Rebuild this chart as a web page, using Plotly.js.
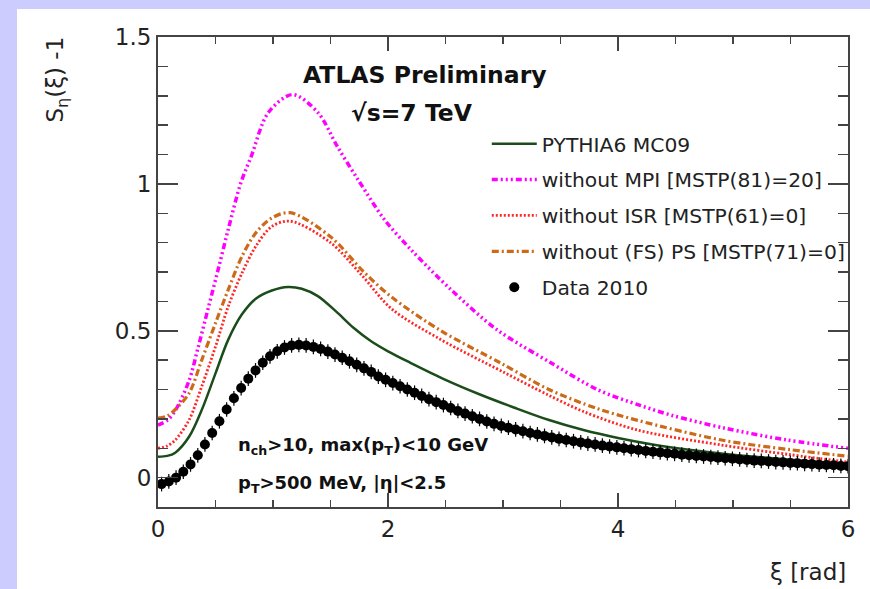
<!DOCTYPE html>
<html>
<head>
<meta charset="utf-8">
<script src="https://cdn.plot.ly/plotly-3.0.1.min.js"></script>
<style>
  html, body { margin: 0; padding: 0; background: #ccccff; width: 870px; height: 589px; overflow: hidden; }
  #chart { position: absolute; left: 17px; top: 9px; width: 853px; height: 580px; background: #ffffff; }
</style>
</head>
<body>
<div id="chart"></div>
<script>
// ---- data ----
var dataX = [
  0.031,0.094,0.157,0.220,0.283,0.346,0.408,0.471,0.534,0.597,
  0.660,0.723,0.785,0.848,0.911,0.974,1.037,1.100,1.162,1.225,
  1.288,1.351,1.414,1.477,1.539,1.602,1.665,1.728,1.791,1.854,
  1.916,1.979,2.042,2.105,2.168,2.231,2.293,2.356,2.419,2.482,
  2.545,2.608,2.670,2.733,2.796,2.859,2.922,2.985,3.047,3.110,
  3.173,3.236,3.299,3.361,3.424,3.487,3.550,3.613,3.676,3.738,
  3.801,3.864,3.927,3.990,4.052,4.115,4.178,4.241,4.304,4.367,
  4.429,4.492,4.555,4.618,4.681,4.744,4.807,4.869,4.932,4.995,
  5.058,5.121,5.184,5.246,5.309,5.372,5.435,5.498,5.560,5.623,
  5.686,5.749,5.812,5.875,5.938,6.000];
var dataY = [
  -0.022,-0.013,0.000,0.020,0.045,0.076,0.113,0.152,0.192,0.232,
  0.270,0.305,0.337,0.365,0.391,0.413,0.430,0.443,0.450,0.452,
  0.450,0.445,0.438,0.429,0.419,0.408,0.396,0.384,0.372,0.360,
  0.344,0.333,0.322,0.311,0.300,0.289,0.278,0.267,0.257,0.247,
  0.237,0.227,0.218,0.209,0.200,0.191,0.183,0.176,0.170,0.164,
  0.158,0.152,0.147,0.142,0.137,0.132,0.128,0.124,0.120,0.116,
  0.113,0.109,0.106,0.103,0.100,0.097,0.094,0.091,0.088,0.086,
  0.083,0.081,0.078,0.076,0.074,0.072,0.070,0.068,0.066,0.064,
  0.062,0.060,0.058,0.057,0.055,0.053,0.052,0.050,0.049,0.047,
  0.046,0.044,0.043,0.042,0.040,0.039];
var dataErr = 0.025;

var mc09X = [0,0.08,0.15,0.27,0.38,0.50,0.61,0.73,0.85,0.99,1.13,1.25,1.39,1.55,1.70,1.85,2.00,2.20,2.50,2.80,3.10,3.40,3.70,4.00,4.30,4.60,5.00,5.50,6.00];
var mc09Y = [0.071,0.074,0.085,0.139,0.23,0.355,0.469,0.556,0.609,0.637,0.649,0.643,0.618,0.565,0.510,0.465,0.430,0.390,0.333,0.283,0.238,0.196,0.162,0.135,0.113,0.096,0.078,0.061,0.047];

var noMpiX = [0,0.08,0.15,0.27,0.35,0.44,0.53,0.61,0.72,0.81,0.96,1.17,1.39,1.56,1.74,1.97,2.20,2.55,2.95,3.42,3.83,4.20,4.46,4.92,5.47,6.00];
var noMpiY = [0.179,0.195,0.228,0.33,0.445,0.582,0.719,0.844,1.003,1.093,1.243,1.304,1.243,1.127,1.014,0.878,0.776,0.639,0.503,0.39,0.298,0.245,0.213,0.169,0.128,0.10];

var noIsrX = [0,0.08,0.15,0.27,0.38,0.50,0.61,0.73,0.85,0.99,1.15,1.50,1.77,2.03,2.45,3.00,3.40,3.70,4.17,4.90,5.50,6.00];
var noIsrY = [0.10,0.108,0.128,0.196,0.31,0.446,0.582,0.696,0.787,0.855,0.873,0.80,0.69,0.575,0.472,0.36,0.28,0.225,0.162,0.111,0.078,0.053];

var noPsX = [0,0.08,0.15,0.27,0.38,0.50,0.61,0.73,0.85,0.99,1.15,1.50,1.79,2.03,2.46,2.98,3.40,3.82,4.17,4.90,5.50,6.00];
var noPsY = [0.203,0.21,0.232,0.287,0.40,0.526,0.639,0.753,0.833,0.884,0.902,0.82,0.70,0.615,0.50,0.39,0.30,0.235,0.195,0.128,0.095,0.073];

var seriesNames = ["PYTHIA6 MC09", "without MPI [MSTP(81)=20]", "without ISR [MSTP(61)=0]", "without (FS) PS [MSTP(71)=0]", "Data 2010"];
var xTickVals = [0, 2, 4, 6];
var yTickVals = [0, 0.5, 1, 1.5];

var FONT = "DejaVu Sans, Liberation Sans, Arial, sans-serif";
var AX = "#444444";

var traces = [
  {x: mc09X, y: mc09Y, name: seriesNames[0], mode: "lines", legendgroup: "a",
   line: {color: "#1b4d1b", width: 2.5, shape: "spline", smoothing: 0.9}},
  {x: noMpiX, y: noMpiY, name: seriesNames[1], mode: "lines", legendgroup: "b",
   line: {color: "#ff00ff", width: 3.5, shape: "spline", smoothing: 0.9, dash: "6px,3px,2px,3px,2px,3px,2px,3px"}},
  {x: noIsrX, y: noIsrY, name: seriesNames[2], mode: "lines", legendgroup: "c",
   line: {color: "#ff2828", width: 2.8, shape: "spline", smoothing: 0.9, dash: "2px,2px"}},
  {x: noPsX, y: noPsY, name: seriesNames[3], mode: "lines", legendgroup: "d",
   line: {color: "#cc6a1a", width: 3.2, shape: "spline", smoothing: 0.9, dash: "7px,3px,2px,3px"}},
  {x: dataX, y: dataY, name: seriesNames[4], mode: "markers", legendgroup: "e",
   marker: {color: "#000000", size: 10, symbol: "circle"},
   error_y: {type: "constant", value: dataErr, color: "#000000", thickness: 1.2, width: 0}}
];

var layout = {
  width: 853, height: 580,
  margin: {l: 141, r: 22, t: 28, b: 82},
  paper_bgcolor: "#ffffff", plot_bgcolor: "#ffffff",
  font: {family: FONT, color: "#222222"},
  showlegend: true,
  legend: {
    x: 0.4765, y: 0.815, xanchor: "left", yanchor: "top",
    bgcolor: "rgba(0,0,0,0)", borderwidth: 0,
    font: {family: FONT, size: 20.3, color: "#222222"},
    traceorder: "grouped", tracegroupgap: 6.5, itemwidth: 45
  },
  xaxis: {
    range: [0, 6], tickvals: xTickVals, ticks: "inside", ticklen: 14, tickwidth: 1.5, tickcolor: AX,
    showline: true, linecolor: AX, linewidth: 2, mirror: "ticks", showgrid: false, zeroline: false,
    tickfont: {family: FONT, size: 23, color: "#222222"},
    minor: {dtick: 0.5, ticks: "inside", ticklen: 7, tickwidth: 1.5, tickcolor: AX, showgrid: false}
  },
  yaxis: {
    range: [-0.1, 1.5], tickvals: yTickVals, ticks: "inside", ticklen: 20, tickwidth: 1.5, tickcolor: AX,
    showline: true, linecolor: AX, linewidth: 2, mirror: "ticks", showgrid: false, zeroline: false,
    tickfont: {family: FONT, size: 23, color: "#222222"},
    minor: {dtick: 0.1, ticks: "inside", ticklen: 10, tickwidth: 1.5, tickcolor: AX, showgrid: false}
  },
  annotations: [
    {text: "<b>ATLAS Preliminary</b>", xref: "x", yref: "y", x: 2.32, y: 1.372, showarrow: false,
     xanchor: "center", yanchor: "middle", font: {family: FONT, size: 23.5, color: "#111111"}},
    {text: "<b>\u221As=7 TeV</b>", xref: "x", yref: "y", x: 2.21, y: 1.24, showarrow: false,
     xanchor: "center", yanchor: "middle", font: {family: FONT, size: 23.5, color: "#111111"}},
    {text: "<b>n<sub>ch</sub>&gt;10, max(p<sub>T</sub>)&lt;10 GeV</b>", xref: "x", yref: "y", x: 0.68, y: 0.108,
     showarrow: false, xanchor: "left", yanchor: "middle", font: {family: FONT, size: 18, color: "#111111"}},
    {text: "<b>p<sub>T</sub>&gt;500 MeV, |\u03B7|&lt;2.5</b>", xref: "x", yref: "y", x: 0.68, y: -0.02,
     showarrow: false, xanchor: "left", yanchor: "middle", font: {family: FONT, size: 18, color: "#111111"}},
    {text: "S<sub>\u03B7</sub>(\u03BE) -1", xref: "paper", yref: "paper", x: -0.146, y: 0.91, textangle: -90,
     showarrow: false, xanchor: "center", yanchor: "middle", font: {family: FONT, size: 23, color: "#222222"}},
    {text: "\u03BE [rad]", xref: "paper", yref: "paper", x: 1.0, y: -0.138,
     showarrow: false, xanchor: "right", yanchor: "middle", font: {family: FONT, size: 23, color: "#222222"}}
  ]
};

Plotly.newPlot("chart", traces, layout, {displayModeBar: false, staticPlot: true});
</script>
</body>
</html>
